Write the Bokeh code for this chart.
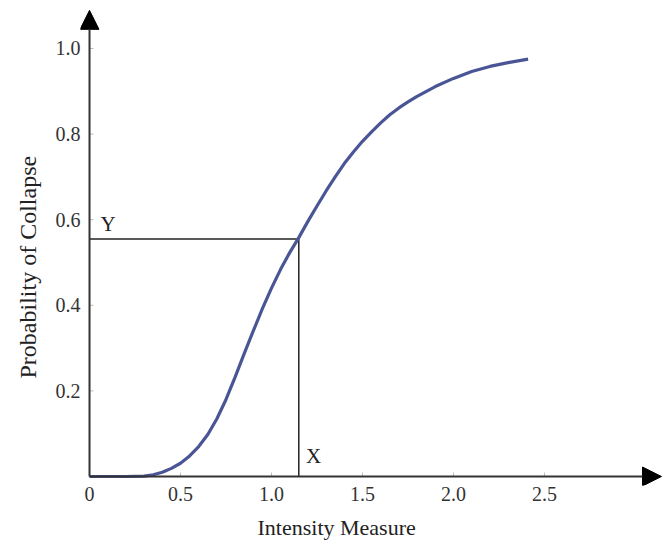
from bokeh.plotting import figure
from bokeh.models import FixedTicker, Arrow, NormalHead, Label, Title
from bokeh.embed import file_html
from bokeh.resources import INLINE

# Curve
intensity = [0.0, 0.1, 0.2, 0.3, 0.35, 0.4, 0.45, 0.5, 0.55, 0.6, 0.65, 0.7, 0.75,
             0.8, 0.85, 0.9, 0.95, 1.0, 1.05, 1.1, 1.15, 1.2, 1.25, 1.3, 1.35, 1.4,
             1.45, 1.5, 1.55, 1.6, 1.65, 1.7, 1.75, 1.8, 1.9, 2.0, 2.1, 2.2, 2.3, 2.41]
probability = [0.0, 0.0, 0.0, 0.001, 0.004, 0.01, 0.019, 0.031, 0.048, 0.07, 0.098,
               0.135, 0.18, 0.232, 0.287, 0.34, 0.392, 0.44, 0.484, 0.523, 0.558,
               0.596, 0.632, 0.667, 0.7, 0.731, 0.758, 0.783, 0.805, 0.826, 0.845,
               0.861, 0.875, 0.888, 0.911, 0.93, 0.946, 0.958, 0.967, 0.975]

x_ticks = [0, 0.5, 1.0, 1.5, 2.0, 2.5]
x_tick_labels = ["0", "0.5", "1.0", "1.5", "2.0", "2.5"]
y_ticks = [0.2, 0.4, 0.6, 0.8, 1.0]
y_tick_labels = ["0.2", "0.4", "0.6", "0.8", "1.0"]

point_x = 1.15
point_y = 0.555

X_START, X_END, X_TIP = -0.0495, 3.154, 3.143
Y_START, Y_END, Y_TIP = -0.021, 1.112, 1.089
FONT = "Liberation Serif"

p = figure(width=663, height=551, output_backend="svg", toolbar_location=None,
           x_range=(X_START, X_END), y_range=(Y_START, Y_END),
           min_border_left=80, min_border_right=0, min_border_top=0,
           min_border_bottom=66)
p.outline_line_color = None
p.grid.visible = False
p.background_fill_color = "white"

for ax in (p.xaxis[0], p.yaxis[0]):
    ax.axis_line_color = None
    ax.major_tick_line_color = None
    ax.minor_tick_line_color = None
    ax.major_tick_in = 0
    ax.major_tick_out = 0
    ax.major_label_text_font = FONT
    ax.major_label_text_font_size = "20px"
    ax.major_label_text_color = "#333333"

p.xaxis.ticker = FixedTicker(ticks=x_ticks)
p.xaxis.major_label_overrides = {t: l for t, l in zip(x_ticks, x_tick_labels)}
p.yaxis.ticker = FixedTicker(ticks=y_ticks)
p.yaxis.major_label_overrides = {t: l for t, l in zip(y_ticks, y_tick_labels)}
p.xaxis.major_label_standoff = 1
p.yaxis.major_label_standoff = 0

# axis titles, placed along the axes like in the reference
p.add_layout(Title(text="Probability of Collapse", align="left", offset=107,
                   standoff=24, text_font=FONT, text_font_size="24px",
                   text_font_style="normal", text_color="#222222"), "left")
p.add_layout(Title(text="Intensity Measure", align="left", offset=177,
                   standoff=19, text_font=FONT, text_font_size="22px",
                   text_font_style="normal", text_color="#222222"), "below")

# small grey tick marks on the drawn axes
tick_dy = 4 / 428
tick_dx = 4 / 182
p.segment(x0=x_ticks[1:], y0=[0] * (len(x_ticks) - 1), x1=x_ticks[1:],
          y1=[tick_dy] * (len(x_ticks) - 1), line_color="#bbbbbb", line_width=1)
p.segment(x0=[0] * len(y_ticks), y0=y_ticks, x1=[tick_dx] * len(y_ticks),
          y1=y_ticks, line_color="#bbbbbb", line_width=1)

# guide lines
p.line([0, point_x], [point_y, point_y], line_color="#222222", line_width=1.5)
p.line([point_x, point_x], [0, point_y], line_color="#222222", line_width=1.5)

# curve
p.line(intensity, probability, line_color="#4a5596", line_width=3.2)

# axes with arrow heads
p.add_layout(Arrow(end=NormalHead(size=19, fill_color="black", line_color="black"),
                   x_start=0, y_start=0, x_end=X_TIP, y_end=0,
                   line_color="#333333", line_width=2))
p.add_layout(Arrow(end=NormalHead(size=19, fill_color="black", line_color="black"),
                   x_start=0, y_start=0, x_end=0, y_end=Y_TIP,
                   line_color="#333333", line_width=2))

p.add_layout(Label(x=0.06, y=point_y + 0.008, text="Y", text_font=FONT,
                   text_font_size="21px", text_color="#222222"))
p.add_layout(Label(x=point_x + 0.04, y=0.02, text="X", text_font=FONT,
                   text_font_size="21px", text_color="#222222"))

open("out.html", "w").write(file_html(p, INLINE))
